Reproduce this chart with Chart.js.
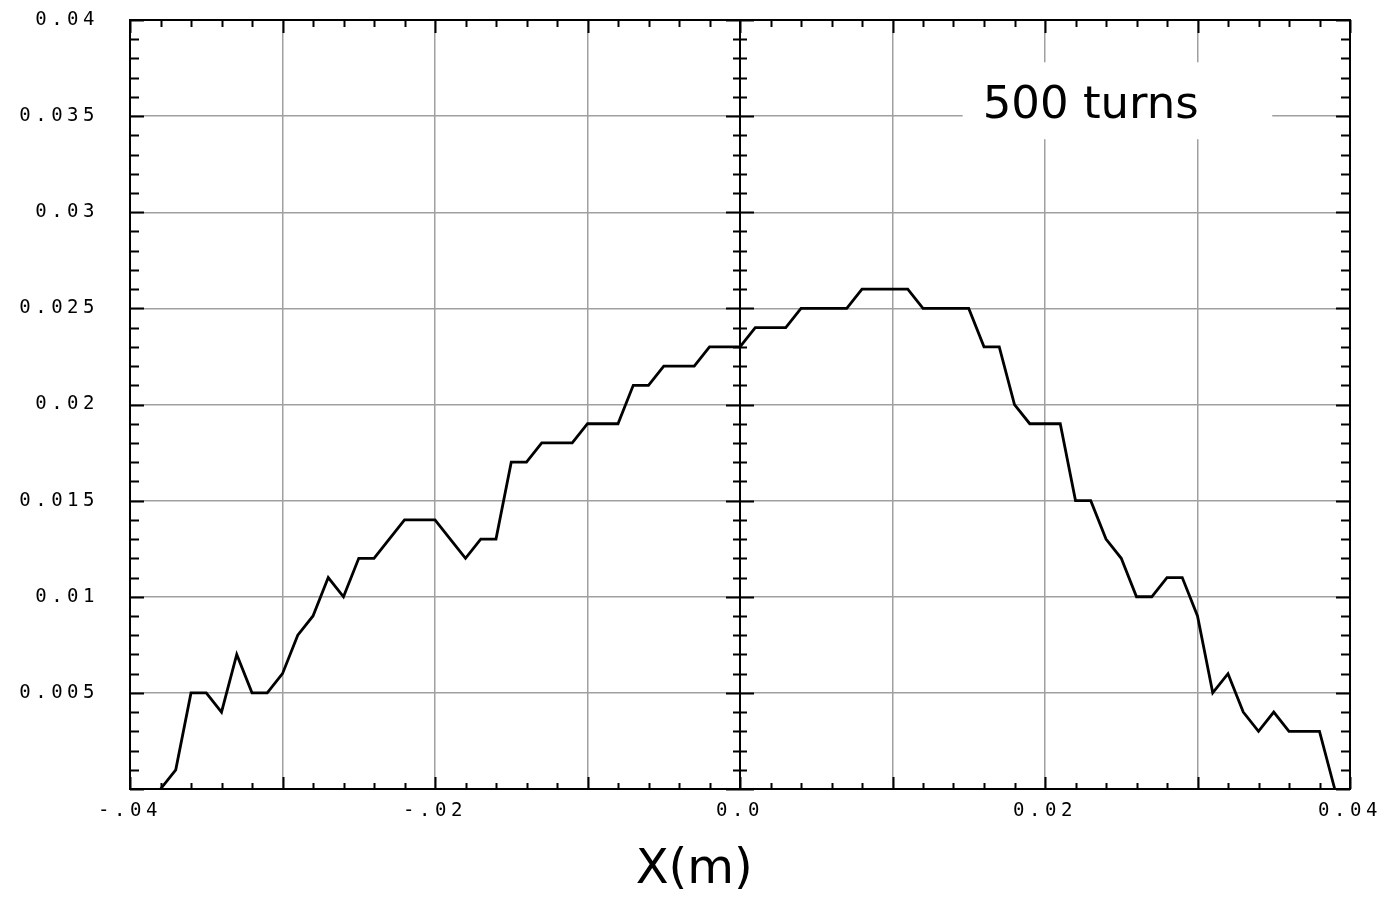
<!DOCTYPE html>
<html>
<head>
<meta charset="utf-8">
<script src="https://cdn.jsdelivr.net/npm/chart.js@4.4.1/dist/chart.umd.min.js"></script>
<style>
    html, body { margin: 0; padding: 0; background: #ffffff; }
    #wrap { width: 1384px; height: 899px; position: relative; }
</style>
</head>
<body>
<div id="wrap"><canvas id="profile-chart"></canvas></div>
<script>
// profile after 500 turns, x in metres
const xValues = [
    -0.038, -0.037, -0.036, -0.035, -0.034, -0.033, -0.032, -0.031, -0.030, -0.029,
    -0.028, -0.027, -0.026, -0.025, -0.024, -0.023, -0.022, -0.021, -0.020, -0.019,
    -0.018, -0.017, -0.016, -0.015, -0.014, -0.013, -0.012, -0.011, -0.010, -0.009,
    -0.008, -0.007, -0.006, -0.005, -0.004, -0.003, -0.002, -0.001, 0.000, 0.001,
    0.002, 0.003, 0.004, 0.005, 0.006, 0.007, 0.008, 0.009, 0.010, 0.011,
    0.012, 0.013, 0.014, 0.015, 0.016, 0.017, 0.018, 0.019, 0.020, 0.021,
    0.022, 0.023, 0.024, 0.025, 0.026, 0.027, 0.028, 0.029, 0.030, 0.031,
    0.032, 0.033, 0.034, 0.035, 0.036, 0.037, 0.038, 0.039
];
const yValues = [
    0.000, 0.001, 0.005, 0.005, 0.004, 0.007, 0.005, 0.005, 0.006, 0.008,
    0.009, 0.011, 0.010, 0.012, 0.012, 0.013, 0.014, 0.014, 0.014, 0.013,
    0.012, 0.013, 0.013, 0.017, 0.017, 0.018, 0.018, 0.018, 0.019, 0.019,
    0.019, 0.021, 0.021, 0.022, 0.022, 0.022, 0.023, 0.023, 0.023, 0.024,
    0.024, 0.024, 0.025, 0.025, 0.025, 0.025, 0.026, 0.026, 0.026, 0.026,
    0.025, 0.025, 0.025, 0.025, 0.023, 0.023, 0.020, 0.019, 0.019, 0.019,
    0.015, 0.015, 0.013, 0.012, 0.010, 0.010, 0.011, 0.011, 0.009, 0.005,
    0.006, 0.004, 0.003, 0.004, 0.003, 0.003, 0.003, 0.000
];

const xLabelTicks = [-0.04, -0.02, 0, 0.02, 0.04];
const xLabelText = ['-.04', '-.02', '0.0', '0.02', '0.04'];
const yLabelTicks = [0.005, 0.01, 0.015, 0.02, 0.025, 0.03, 0.035, 0.04];
const yLabelText = ['0.005', '0.01', '0.015', '0.02', '0.025', '0.03', '0.035', '0.04'];

const labelFor = (ticks, texts, v) => {
    const i = ticks.findIndex(t => Math.abs(t - v) < 1e-9);
    return i < 0 ? '' : texts[i];
};

const tickFont = { family: '"DejaVu Sans Mono", "Liberation Mono", monospace', size: 19 };

const spacingPlugin = {
    id: 'spacing',
    beforeLayout(c) { c.ctx.letterSpacing = '4.5px'; },
    beforeDraw(c) { c.ctx.letterSpacing = '4.5px'; }
};

// keep the plot box where the layout padding puts it
const fixPadding = (s) => { s.paddingTop = 0; s.paddingBottom = 0; s.paddingLeft = 0; s.paddingRight = 0; };

// frame, zero axis, minor ticks and the annotations
const framePlugin = {
    id: 'frame',
    afterDraw(c) {
        const { ctx, chartArea: a, scales: { x, y } } = c;
        const x0 = x.getPixelForValue(0);
        ctx.save();
        ctx.letterSpacing = '0px';
        ctx.strokeStyle = '#000';
        ctx.lineWidth = 2;
        ctx.strokeRect(a.left, a.top, a.right - a.left, a.bottom - a.top);
        ctx.beginPath();
        ctx.moveTo(x0, a.top);
        ctx.lineTo(x0, a.bottom);
        for (let k = 0; k <= 40; k++) {
            const py = Math.round(y.getPixelForValue(k / 1000)) + 0.5;
            const major = k % 5 === 0;
            const l = major ? 14 : 9;
            ctx.moveTo(a.left, py); ctx.lineTo(a.left + l, py);
            ctx.moveTo(a.right, py); ctx.lineTo(a.right - l, py);
            const m = major ? 14 : 7;
            ctx.moveTo(x0 - m, py); ctx.lineTo(x0 + m, py);
        }
        for (let k = -40; k <= 40; k += 2) {
            const px = Math.round(x.getPixelForValue(k / 1000)) + 0.5;
            const major = k % 10 === 0;
            ctx.moveTo(px, a.bottom); ctx.lineTo(px, a.bottom - (major ? 12 : 6));
            ctx.moveTo(px, a.top); ctx.lineTo(px, a.top + (major ? 13 : 7));
        }
        ctx.stroke();

        // "500 turns" box
        const bx1 = x.getPixelForValue(0.0146), bx2 = x.getPixelForValue(0.0349);
        const by1 = y.getPixelForValue(0.0378), by2 = y.getPixelForValue(0.0338);
        ctx.fillStyle = '#fff';
        ctx.fillRect(bx1, by1, bx2 - bx1, by2 - by1);
        ctx.fillStyle = '#000';
        ctx.font = '45px "Comic Sans MS", "DejaVu Sans", sans-serif';
        ctx.textAlign = 'center';
        ctx.textBaseline = 'middle';
        ctx.fillText('500 turns', x.getPixelForValue(0.0230), y.getPixelForValue(0.0355));

        ctx.font = '48px "Comic Sans MS", "DejaVu Sans", sans-serif';
        ctx.fillText('X(m)', x.getPixelForValue(-0.003), a.bottom + 82);
        ctx.restore();
    }
};

new Chart(document.getElementById('profile-chart'), {
    type: 'line',
    data: {
        datasets: [{
            data: xValues.map((v, i) => ({ x: v, y: yValues[i] })),
            borderColor: '#000',
            borderWidth: 2.8,
            pointRadius: 0,
            tension: 0,
            fill: false
        }]
    },
    options: {
        responsive: true,
        maintainAspectRatio: false,
        animation: false,
        layout: { padding: { left: 0, right: 34, top: 20, bottom: 0 } },
        plugins: { legend: { display: false }, tooltip: { enabled: false } },
        scales: {
            x: {
                type: 'linear',
                min: -0.04,
                max: 0.04,
                afterFit: (s) => { s.height = 110; fixPadding(s); },
                grid: { color: '#a0a0a0', lineWidth: 1.5, drawTicks: false },
                border: { display: false },
                ticks: {
                    stepSize: 0.01,
                    autoSkip: false,
                    maxRotation: 0,
                    padding: 11,
                    color: '#000',
                    font: tickFont,
                    callback: (v) => labelFor(xLabelTicks, xLabelText, v)
                }
            },
            y: {
                min: 0,
                max: 0.04,
                afterFit: (s) => { s.width = 130; fixPadding(s); },
                grid: { color: '#a0a0a0', lineWidth: 1.5, drawTicks: false },
                border: { display: false },
                ticks: {
                    stepSize: 0.005,
                    autoSkip: false,
                    padding: 31,
                    color: '#000',
                    font: tickFont,
                    callback: (v) => labelFor(yLabelTicks, yLabelText, v)
                }
            }
        }
    },
    plugins: [spacingPlugin, framePlugin]
});
</script>
</body>
</html>
